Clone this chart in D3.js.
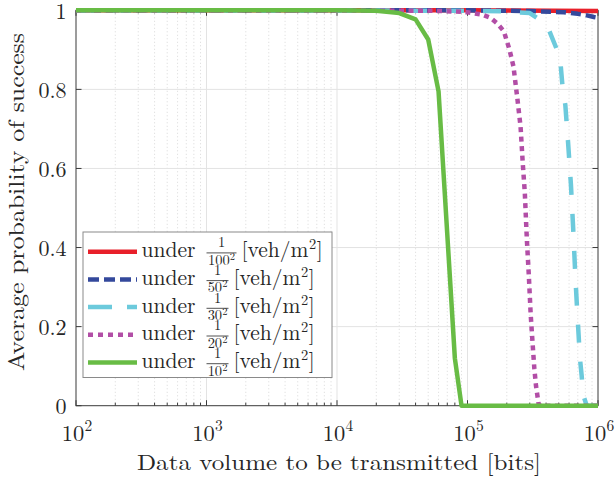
<!DOCTYPE html>
<html><head><meta charset="utf-8">
<script src="https://cdn.jsdelivr.net/npm/d3@7"></script>
<style>
body{margin:0;background:#fff}
svg{display:block}
</style>
</head><body>
<svg id="c" width="615" height="478"></svg>
<script>
// ---- data ----
const xTicks = [1e2, 1e3, 1e4, 1e5, 1e6];
const xTickExp = ["2", "3", "4", "5", "6"];
const yTicks = [0, 0.2, 0.4, 0.6, 0.8, 1];
const yTickLabels = ["0", "0.2", "0.4", "0.6", "0.8", "1"];
const densities = ["100", "50", "30", "20", "10"];
const colors = ["#e8202a", "#34499c", "#6ccadc", "#b24ea6", "#68bc45"];

const red_x = [1e2, 1e5, 1e6];
const red_p = [1, 1, 0.998];

const blue_x = [1e2, 1e5, 3e5, 5.5e5, 7e5, 8e5, 9.3e5, 1e6];
const blue_p = [1, 1, 0.998, 0.995, 0.991, 0.988, 0.983, 0.981];

const cyan_x = [1e2, 1e5, 2e5, 3e5, 3.4e5, 4.2e5, 4.85e5, 5.15e5, 5.36e5, 5.62e5, 5.9e5, 6.2e5, 6.45e5, 6.7e5, 6.9e5, 7.1e5, 7.25e5, 7.5e5, 7.7e5, 8.2e5, 1e6];
const cyan_p = [1, 0.999, 0.997, 0.993, 0.981, 0.951, 0.9, 0.87, 0.803, 0.76, 0.665, 0.56, 0.45, 0.33, 0.25, 0.18, 0.124, 0.075, 0.027, 0, 0];

const magenta_x = [1e2, 5e4, 8e4, 1e5, 1.3e5, 1.5e5, 1.7e5, 1.9e5, 2.1e5, 2.25e5, 2.4e5, 2.55e5, 2.65e5, 2.75e5, 2.85e5, 2.95e5, 3.05e5, 3.15e5, 3.25e5, 3.35e5, 3.5e5, 3.6e5, 1e6];
const magenta_p = [1, 0.999, 0.997, 0.995, 0.989, 0.981, 0.966, 0.947, 0.9, 0.858, 0.782, 0.706, 0.614, 0.538, 0.42, 0.33, 0.23, 0.16, 0.095, 0.05, 0.006, 0, 0];

const green_x = [1e2, 1e4, 2e4, 3e4, 4e4, 5e4, 6e4, 8e4, 9e4, 1e5, 1e6];
const green_p = [1, 1, 0.999, 0.993, 0.977, 0.926, 0.795, 0.12, 0, 0, 0];

const seriesX = [red_x, blue_x, cyan_x, magenta_x, green_x];
const seriesP = [red_p, blue_p, cyan_p, magenta_p, green_p];

// ---- styles ----
const FONT = "'Latin Modern Roman', 'CMU Serif', 'Liberation Serif', serif";
const plotDash = [null, "10,5", "18,19", "5,4.5", null];
const legendDash = [null, "11,5", "24,15", "5,5", null];
const LW = 4.5;

const svg = d3.select("#c");
const L = 76, R = 598, T = 10.3, B = 405.7;
const x = d3.scaleLog().domain([1e2, 1e6]).range([L, R]);
const y = d3.scaleLinear().domain([0, 1]).range([B, T]);

function txt(sel, size) {
  return sel.append("text").style("font-family", FONT).attr("font-size", size).attr("fill", "#262626");
}

const minor = [];
for (let e = 2; e < 6; e++) for (let k = 2; k <= 9; k++) minor.push(k * Math.pow(10, e));

// grid
const g = svg.append("g");
g.selectAll(".mg").data(minor).enter().append("line")
  .attr("x1", d => x(d)).attr("x2", d => x(d)).attr("y1", T).attr("y2", B)
  .attr("stroke", "#c8c8c8").attr("stroke-width", 0.7).attr("stroke-dasharray", "1,2.5");
g.selectAll(".gx").data(xTicks.slice(1, -1)).enter().append("line")
  .attr("x1", d => x(d)).attr("x2", d => x(d)).attr("y1", T).attr("y2", B)
  .attr("stroke", "#e3e3e3").attr("stroke-width", 1);
g.selectAll(".gy").data(yTicks.slice(1, -1)).enter().append("line")
  .attr("x1", L).attr("x2", R).attr("y1", d => y(d)).attr("y2", d => y(d))
  .attr("stroke", "#e3e3e3").attr("stroke-width", 1);

// axes box & ticks
const ax = svg.append("g").attr("stroke", "#3a3a3a").attr("stroke-width", 1);
ax.append("rect").attr("x", L).attr("y", T).attr("width", R - L).attr("height", B - T).attr("fill", "none");
xTicks.forEach(d => {
  ax.append("line").attr("x1", x(d)).attr("x2", x(d)).attr("y1", B).attr("y2", B - 5.5);
  ax.append("line").attr("x1", x(d)).attr("x2", x(d)).attr("y1", T).attr("y2", T + 5.5);
});
minor.forEach(d => {
  ax.append("line").attr("x1", x(d)).attr("x2", x(d)).attr("y1", B).attr("y2", B - 3);
  ax.append("line").attr("x1", x(d)).attr("x2", x(d)).attr("y1", T).attr("y2", T + 3);
});
yTicks.forEach(d => {
  ax.append("line").attr("x1", L).attr("x2", L + 5.5).attr("y1", y(d)).attr("y2", y(d));
  ax.append("line").attr("x1", R).attr("x2", R - 5.5).attr("y1", y(d)).attr("y2", y(d));
});

// tick labels
yTicks.forEach((d, i) => {
  txt(svg, 22).attr("x", 66.5).attr("y", y(d) + 8.3).attr("text-anchor", "end").text(yTickLabels[i]);
});
xTicks.forEach((d, i) => {
  const t = txt(svg, 22.5).attr("x", x(d) + 1).attr("y", 441).attr("text-anchor", "middle");
  t.append("tspan").text("10");
  t.append("tspan").attr("font-size", 15.5).attr("dy", -10.5).text(xTickExp[i]);
});

// axis titles
txt(svg, 22).attr("x", (L + R) / 2 + 2).attr("y", 470).attr("text-anchor", "middle")
  .attr("textLength", 404).attr("lengthAdjust", "spacingAndGlyphs")
  .text("Data volume to be transmitted [bits]");
txt(svg, 22).attr("transform", `translate(23.5,${(T + B) / 2 - 6}) rotate(-90)`).attr("text-anchor", "middle")
  .attr("textLength", 338).attr("lengthAdjust", "spacingAndGlyphs")
  .text("Average probability of success");

// lines
const line = d3.line().x(d => x(d[0])).y(d => y(d[1]));
seriesX.forEach((xs, i) => {
  const pts = xs.map((v, j) => [v, seriesP[i][j]]);
  const p = svg.append("path").attr("d", line(pts)).attr("fill", "none")
    .attr("stroke", colors[i]).attr("stroke-width", LW).attr("stroke-linejoin", "round");
  if (plotDash[i]) p.attr("stroke-dasharray", plotDash[i]);
});

// legend
const lg = svg.append("g");
lg.append("rect").attr("x", 83).attr("y", 232).attr("width", 249).attr("height", 145.5)
  .attr("fill", "#fff").attr("stroke", "#8a8a8a").attr("stroke-width", 1);
densities.forEach((dn, i) => {
  const cy = 251.7 + i * 27.7;
  const l = lg.append("line").attr("x1", 88).attr("x2", 137).attr("y1", cy).attr("y2", cy)
    .attr("stroke", colors[i]).attr("stroke-width", LW);
  if (legendDash[i]) l.attr("stroke-dasharray", legendDash[i]);
  txt(lg, 22).attr("x", 141.5).attr("y", cy + 5.5)
    .attr("textLength", 54).attr("lengthAdjust", "spacingAndGlyphs").text("under");
  const fx = 206.5, fw = dn.length === 3 ? 30 : 22;
  lg.append("line").attr("x1", fx).attr("x2", fx + fw).attr("y1", cy + 1.2).attr("y2", cy + 1.2)
    .attr("stroke", "#262626").attr("stroke-width", 0.8);
  txt(lg, 14.5).attr("x", fx + fw / 2).attr("y", cy - 4.5).attr("text-anchor", "middle").text("1");
  const den = txt(lg, 14.5).attr("x", fx + fw / 2).attr("y", cy + 13).attr("text-anchor", "middle");
  den.append("tspan").text(dn);
  den.append("tspan").attr("font-size", 10.5).attr("dy", -5).text("2");
  const ux = fx + fw + 5;
  const t1 = txt(lg, 21.5).attr("x", ux).attr("y", cy + 5.5).text("[veh/m");
  const w1 = t1.node().getComputedTextLength();
  const t2 = txt(lg, 14.5).attr("x", ux + w1 + 0.6).attr("y", cy - 2.5).text("2");
  const w2 = t2.node().getComputedTextLength();
  txt(lg, 21.5).attr("x", ux + w1 + w2 + 1.2).attr("y", cy + 5.5).text("]");
});
</script>
</body></html>
